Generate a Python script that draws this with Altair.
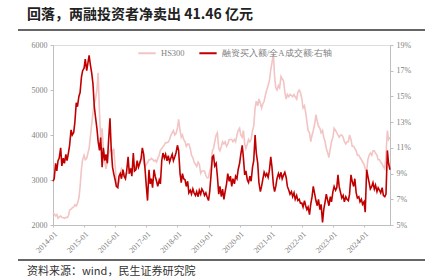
import altair as alt
import pandas as pd

# HS300 (left axis), semi-monthly from 2014-01-01 to 2024-11-01
hs300_2014 = [2270, 2250, 2200, 2230, 2150, 2180, 2200, 2170, 2160, 2150, 2170, 2160,
              2200, 2330, 2350, 2380, 2400, 2450, 2420, 2480, 2600, 2850, 3250, 3450]
hs300_2015 = [3550, 3450, 3480, 3600, 3700, 3950, 4250, 4500, 4700, 4800, 5000, 5380,
              4500, 3900, 4150, 3700, 3400, 3250, 3400, 3600, 3650, 3700, 3600, 3700]
hs300_2016 = [3300, 2950, 2900, 2950, 3150, 3250, 3200, 3150, 3100, 3150, 3150, 3150,
              3250, 3200, 3300, 3320, 3250, 3280, 3330, 3350, 3450, 3550, 3400, 3300]
hs300_2017 = [3350, 3380, 3450, 3450, 3480, 3460, 3420, 3440, 3400, 3480, 3550, 3660,
              3700, 3740, 3780, 3830, 3830, 3840, 3900, 3990, 4050, 4100, 4000, 4030]
hs300_2018 = [4150, 4350, 4100, 3950, 4000, 3900, 3850, 3750, 3800, 3800, 3700, 3550,
              3500, 3400, 3350, 3300, 3400, 3350, 3150, 3200, 3200, 3200, 3100, 3050]
hs300_2019 = [3050, 3200, 3300, 3650, 3700, 3850, 4000, 4050, 3700, 3650, 3750, 3850,
              3800, 3850, 3750, 3800, 3900, 3900, 3900, 3850, 3900, 3850, 4000, 4100]
hs300_2020 = [4150, 4000, 3950, 4100, 3800, 3700, 3800, 3900, 3850, 3900, 4100, 4200,
              4600, 4750, 4650, 4800, 4700, 4600, 4700, 4750, 4900, 5000, 5100, 5200]
hs300_2021 = [5450, 5600, 5800, 5300, 5050, 5000, 5100, 5050, 5300, 5250, 5200, 4950,
              4800, 4900, 4850, 4900, 4880, 4850, 4900, 4850, 4800, 4950, 5000, 4950]
hs300_2022 = [4800, 4600, 4650, 4500, 4300, 4100, 4050, 3850, 4000, 4100, 4250, 4450,
              4300, 4200, 4150, 4050, 4100, 3950, 3850, 3700, 3600, 3500, 3700, 3850]
hs300_2023 = [3950, 4150, 4100, 4050, 4000, 3950, 4000, 4000, 3950, 3850, 3800, 3850,
              3850, 4000, 3900, 3750, 3750, 3700, 3650, 3550, 3550, 3500, 3450, 3400]
hs300_2024 = [3350, 3250, 3200, 3450, 3550, 3600, 3550, 3650, 3650, 3600, 3550, 3450,
              3450, 3400, 3350, 3300, 3250, 3550, 4100, 3900, 3950]

# Margin purchases / total A-share turnover, % (right axis)
ratio_2014 = [8.4, 8.6, 9.8, 9.2, 10.0, 10.2, 11.0, 9.6, 10.2, 9.8, 10.5, 10.0,
              10.6, 11.2, 12.4, 12.0, 12.2, 13.0, 14.5, 14.2, 15.0, 15.3, 16.5, 17.0]
ratio_2015 = [17.2, 17.9, 17.0, 17.6, 18.2, 17.5, 16.8, 16.0, 14.2, 13.4, 12.5, 11.5,
              10.8, 11.8, 9.5, 11.0, 10.0, 10.5, 9.8, 11.5, 13.3, 11.0, 9.5, 9.0]
ratio_2016 = [8.5, 8.0, 7.9, 8.8, 9.0, 8.6, 9.3, 8.8, 8.6, 9.2, 10.3, 9.0,
              9.4, 8.8, 10.6, 9.2, 9.3, 10.0, 9.5, 9.8, 10.2, 11.0, 10.5, 9.5]
ratio_2017 = [8.0, 6.9, 9.3, 8.2, 8.6, 7.9, 9.3, 8.8, 8.4, 8.0, 8.5, 8.2,
              10.0, 10.6, 10.2, 10.5, 10.0, 10.4, 9.9, 10.2, 10.5, 10.0, 10.3, 10.6]
ratio_2018 = [11.2, 10.8, 9.0, 8.3, 9.0, 8.6, 8.5, 8.0, 8.4, 7.5, 7.7, 7.4,
              7.8, 7.5, 7.3, 7.6, 7.2, 7.7, 7.4, 7.8, 7.6, 7.3, 7.5, 7.2]
ratio_2019 = [6.9, 7.6, 9.0, 10.3, 10.4, 9.6, 9.8, 8.8, 7.4, 8.0, 7.2, 7.8,
              7.0, 7.6, 8.2, 9.0, 8.4, 8.8, 8.0, 8.6, 8.2, 8.8, 8.6, 9.3]
ratio_2020 = [9.8, 10.5, 11.2, 10.2, 8.9, 9.2, 8.5, 8.3, 8.8, 8.4, 9.5, 10.0,
              12.0, 10.6, 9.8, 8.3, 7.6, 8.0, 8.6, 9.1, 8.8, 9.0, 8.7, 9.2]
ratio_2021 = [10.3, 9.5, 8.1, 7.6, 8.0, 8.6, 9.0, 8.7, 9.1, 8.6, 8.9, 9.1,
              8.7, 8.0, 7.7, 7.4, 7.6, 7.2, 7.5, 7.0, 7.3, 6.9, 7.0, 6.7]
ratio_2022 = [6.7, 6.4, 6.9, 6.5, 6.2, 6.4, 5.8, 6.6, 7.2, 8.0, 7.4, 6.9,
              6.5, 7.0, 6.2, 6.6, 5.2, 6.2, 6.8, 7.4, 6.9, 6.5, 7.2, 6.8]
ratio_2023 = [7.6, 8.0, 7.7, 7.9, 8.9, 8.0, 7.5, 7.1, 7.3, 6.8, 7.2, 7.0,
              6.9, 7.4, 8.9, 8.4, 8.0, 8.6, 7.5, 7.1, 7.2, 6.8, 7.0, 6.6]
ratio_2024 = [6.8, 6.0, 9.3, 8.8, 8.3, 7.8, 8.0, 8.3, 7.8, 8.1, 7.6, 7.9,
              7.7, 7.5, 7.9, 7.3, 7.2, 7.4, 10.8, 9.8, 9.3]

hs300 = (hs300_2014 + hs300_2015 + hs300_2016 + hs300_2017 + hs300_2018 + hs300_2019
         + hs300_2020 + hs300_2021 + hs300_2022 + hs300_2023 + hs300_2024)
ratio = (ratio_2014 + ratio_2015 + ratio_2016 + ratio_2017 + ratio_2018 + ratio_2019
         + ratio_2020 + ratio_2021 + ratio_2022 + ratio_2023 + ratio_2024)
dates = [d.strftime("%Y-%m-%d") for d in pd.date_range("2014-01-01", periods=len(hs300), freq="SMS")]
assert len(hs300) == len(ratio)

series_names = ["HS300", "融资买入额/全A成交额:右轴"]
series_colors = ["#F2C4C4", "#C00000"]
title_text = "回落，两融投资者净卖出 41.46 亿元"
source_text = "资料来源：wind，民生证券研究院"
left_ticks = [2000, 3000, 4000, 5000, 6000]
right_ticks = [5, 7, 9, 11, 13, 15, 17, 19]

df = pd.DataFrame({"date": dates, "hs300": hs300, "ratio": ratio})

W, H = 337, 180
serif = "Liberation Serif"
axis_gray = "#BFBFBF"
label_gray = "#7F7F7F"

color_scale = alt.Scale(domain=series_names, range=series_colors)
xenc = alt.X("date:T", title=None,
             scale=alt.Scale(domain=[alt.DateTime(year=2014, month=1, date=1),
                                     alt.DateTime(year=2024, month=11, date=1)], nice=False),
             axis=alt.Axis(format="%Y-%m", tickCount={"interval": "year", "step": 1},
                           labelAngle=-45, labelAlign="right", labelBaseline="top",
                           labelFont=serif, labelFontSize=8, labelColor=label_gray,
                           domainColor=axis_gray, tickColor=axis_gray, tickSize=2,
                           grid=False, labelPadding=3))

base = alt.Chart(df)
pink = base.mark_line(strokeWidth=1.6).transform_calculate(
    series="'" + series_names[0] + "'"
).encode(
    x=xenc,
    y=alt.Y("hs300:Q", title=None,
            scale=alt.Scale(domain=[2000, 6000], nice=False, zero=False),
            axis=alt.Axis(values=left_ticks, orient="left", grid=False, format="d",
                          labelFont=serif, labelFontSize=8, labelColor=label_gray,
                          domainColor=axis_gray, tickColor=axis_gray, tickSize=3,
                          labelPadding=3)),
    color=alt.Color("series:N", scale=color_scale,
                    legend=alt.Legend(title=None, orient="none", legendX=84, legendY=-2,
                                      direction="horizontal", symbolType="stroke",
                                      symbolSize=300, symbolStrokeWidth=2,
                                      labelFont=serif, labelFontSize=8.5,
                                      labelColor=label_gray, columnPadding=10,
                                      labelOffset=4)),
)
red = base.mark_line(strokeWidth=1.6).transform_calculate(
    series="'" + series_names[1] + "'"
).encode(
    x=xenc,
    y=alt.Y("ratio:Q", title=None,
            scale=alt.Scale(domain=[5, 19], nice=False, zero=False),
            axis=alt.Axis(values=right_ticks, orient="right", grid=False,
                          labelExpr="datum.value + '%'",
                          labelFont=serif, labelFontSize=8, labelColor=label_gray,
                          domainColor=axis_gray, tickColor=axis_gray, tickSize=3,
                          labelPadding=3)),
    color=alt.Color("series:N", scale=color_scale),
)

one = pd.DataFrame({"t": [title_text], "s": [source_text]})
title = alt.Chart(one).mark_text(align="left", baseline="middle", fontSize=14,
                                 fontWeight="bold", font="Noto Sans CJK SC",
                                 color="#222222").encode(
    x=alt.value(-26), y=alt.value(-30), text="t:N")
source = alt.Chart(one).mark_text(align="left", baseline="middle", fontSize=11,
                                  font="Noto Sans CJK SC", color="#333333").encode(
    x=alt.value(-26), y=alt.value(227), text="s:N")
top_rule = alt.Chart(one).mark_rule(color="#666666", strokeWidth=2).encode(
    x=alt.value(-35), x2=alt.value(372), y=alt.value(-15))
bottom_rule = alt.Chart(one).mark_rule(color="#666666", strokeWidth=2).encode(
    x=alt.value(-35), x2=alt.value(372), y=alt.value(215))

lines = alt.layer(pink, red).resolve_scale(y="independent")
chart = alt.layer(lines, title, source, top_rule, bottom_rule).properties(
    width=W, height=H,
    padding={"left": 53, "top": 45, "right": 43, "bottom": 54},
    autosize=alt.AutoSizeParams(type="none"),
).configure_view(stroke=None).configure(background="white")

chart.save("out.html", embed_options={"renderer": "svg", "actions": False})
